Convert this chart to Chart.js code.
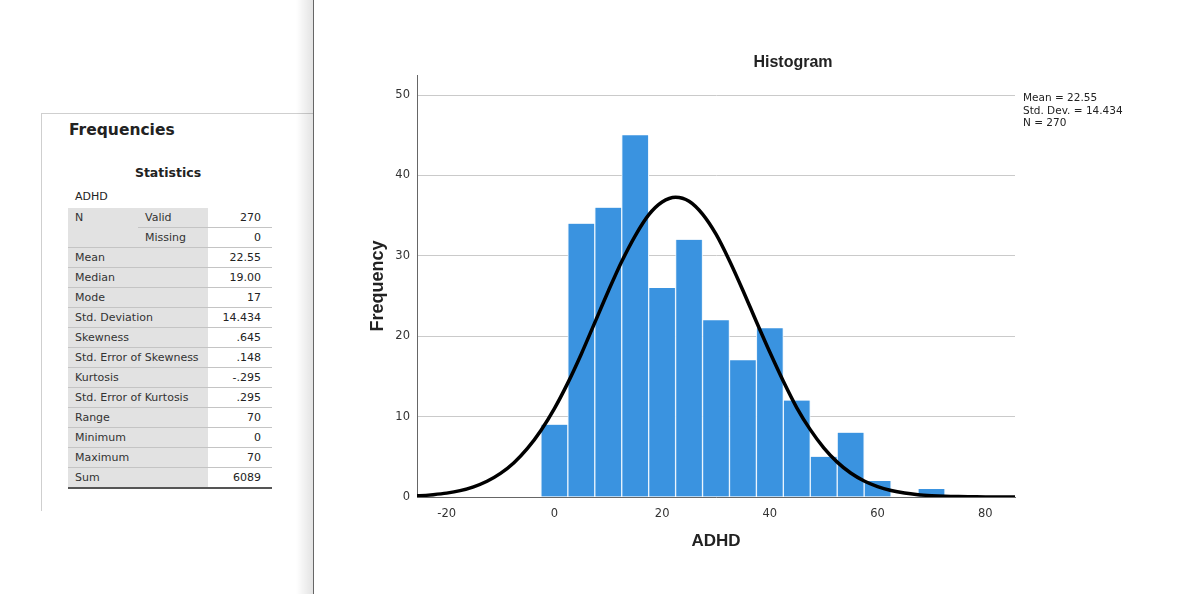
<!DOCTYPE html>
<html>
<head>
<meta charset="utf-8">
<script src="https://cdn.jsdelivr.net/npm/chart.js@4.4.1/dist/chart.umd.min.js"></script>
<style>
  body { margin: 0; width: 1200px; height: 594px; overflow: hidden; background: #fff; font-family: "DejaVu Sans", sans-serif; position: relative; }
  .abs { position: absolute; }
  #panel { left: 41px; top: 113px; width: 272px; height: 397px; border-top: 1px solid #cfcfcf; border-left: 1px solid #cfcfcf; }
  #shade { left: 296px; top: 0; width: 17px; height: 594px; background: linear-gradient(to right, rgba(0,0,0,0), rgba(0,0,0,0.11)); }
  #divider { left: 313px; top: 0; width: 1px; height: 594px; background: #666; }
  #freqTitle { left: 69px; top: 120px; line-height: 20px; font-size: 15.5px; font-weight: bold; color: #222; }
  #statTitle { left: 118px; width: 100px; text-align: center; top: 163px; line-height: 20px; font-size: 12.5px; font-weight: bold; color: #222; }
  #varName { left: 75px; top: 187px; line-height: 20px; font-size: 11px; color: #222; }
  #stats { left: 68px; top: 208px; border-collapse: collapse; font-size: 11px; color: #333; }
  #stats td { height: 19px; padding: 0; border-bottom: 1px solid #c4c4c4; line-height: 19px; white-space: nowrap; }
  #stats td.lab { background: #e2e2e2; padding-left: 7px; }
  #stats td.top { vertical-align: top; }
  #stats td.val { background: #fff; text-align: right; padding-right: 11px; color: #222; }
  #stats tr:last-child td { border-bottom: 2px solid #555; }
  #chartBox { left: 363px; top: 0; width: 837px; height: 594px; }
  #histTitle { left: 693px; width: 200px; text-align: center; top: 52px; line-height: 20px; font-family: "Liberation Sans", sans-serif; font-size: 16px; font-weight: bold; color: #222; }
  #fitInfo { left: 1023px; top: 91px; font-size: 10.5px; line-height: 12.5px; color: #222; white-space: nowrap; }
</style>
</head>
<body>
<div id="panel" class="abs"></div>
<div id="shade" class="abs"></div>
<div id="divider" class="abs"></div>
<div id="freqTitle" class="abs">Frequencies</div>
<div id="statTitle" class="abs">Statistics</div>
<div id="varName" class="abs">ADHD</div>
<table id="stats" class="abs"></table>

<div id="chartBox" class="abs"><canvas id="histChart"></canvas></div>
<div id="histTitle" class="abs">Histogram</div>
<div id="fitInfo" class="abs"></div>

<script>
// statistics table
const statLabels = ["Mean", "Median", "Mode", "Std. Deviation", "Skewness", "Std. Error of Skewness",
  "Kurtosis", "Std. Error of Kurtosis", "Range", "Minimum", "Maximum", "Sum"];
const statValues = ["22.55", "19.00", "17", "14.434", ".645", ".148", "-.295", ".295", "70", "0", "70", "6089"];
const nValid = "270";
const nMissing = "0";

// histogram bins (bin width 5, centred on multiples of 5)
const binCenters = [0, 5, 10, 15, 20, 25, 30, 35, 40, 45, 50, 55, 60, 65, 70];
const binCounts = [9, 34, 36, 45, 26, 32, 22, 17, 21, 12, 5, 8, 2, 0, 1];

// fitted normal curve
const curveX = [-25.5, -25, -22.5, -20, -17.5, -15, -12.5, -10, -7.5, -5, -2.5, 0, 2.5, 5, 7.5, 10, 12.5, 15, 17.5, 20,
  22.5, 25, 27.5, 30, 32.5, 35, 37.5, 40, 42.5, 45, 47.5, 50, 52.5, 55, 57.5, 60, 62.5, 65, 67.5, 70, 72.5, 75, 77.5, 80, 82.5, 85, 85.5];
const curveY = [0.15, 0.16, 0.29, 0.48, 0.79, 1.27, 1.96, 2.94, 4.27, 6.04, 8.28, 11.0, 14.2, 17.8, 21.7, 25.6, 29.3, 32.5, 35.1, 36.7,
  37.3, 36.8, 35.2, 32.7, 29.4, 25.7, 21.8, 18.0, 14.4, 11.1, 8.38, 6.12, 4.34, 2.98, 1.99, 1.29, 0.81, 0.49, 0.29, 0.17, 0.09, 0.05, 0.03, 0.01, 0.01, 0, 0];

const xTicks = [-20, 0, 20, 40, 60, 80];
const yTicks = [0, 10, 20, 30, 40, 50];
const fitLines = ["Mean = 22.55", "Std. Dev. = 14.434", "N = 270"];

// build the table
const table = document.getElementById("stats");
let html = '<colgroup><col style="width:70px"><col style="width:70px"><col style="width:64px"></colgroup>';
html += '<tr><td class="lab top" rowspan="2">N</td><td class="lab">Valid</td><td class="val">' + nValid + '</td></tr>';
html += '<tr><td class="lab">Missing</td><td class="val">' + nMissing + '</td></tr>';
statLabels.forEach(function (lab, i) {
  html += '<tr><td class="lab" colspan="2">' + lab + '</td><td class="val">' + statValues[i] + '</td></tr>';
});
table.innerHTML = html;
document.getElementById("fitInfo").innerHTML = fitLines.join("<br>");

const tickFont = { family: "DejaVu Sans", size: 11.5 };

const ctx = document.getElementById("histChart").getContext("2d");
new Chart(ctx, {
  data: {
    datasets: [
      {
        type: "line",
        data: curveX.map((x, i) => ({ x: x, y: curveY[i] })),
        borderColor: "#000",
        borderWidth: 3.5,
        pointRadius: 0,
        cubicInterpolationMode: "monotone",
        order: 1,
      },
      {
        type: "bar",
        data: binCenters.map((x, i) => ({ x: x, y: binCounts[i] })),
        backgroundColor: "#3a93e0",
        borderColor: "#e9f4fd",
        borderWidth: { left: 1, right: 1, top: 0, bottom: 0 },
        borderSkipped: false,
        barPercentage: 1,
        categoryPercentage: 1,
        order: 2,
      },
    ],
  },
  options: {
    responsive: true,
    maintainAspectRatio: false,
    animation: false,
    layout: { padding: { top: 75, right: 185, bottom: 38, left: 0 } },
    plugins: { legend: { display: false }, tooltip: { enabled: false } },
    scales: {
      x: {
        type: "linear",
        offset: false,
        min: -25.5,
        max: 85.5,
        afterBuildTicks: (s) => { s.ticks = xTicks.map((v) => ({ value: v })); },
        afterFit: (s) => { s.height = 59; },
        grid: { display: false },
        border: { color: "#666", width: 1 },
        ticks: { font: tickFont, color: "#333", padding: 2, maxRotation: 0 },
        title: { display: true, text: "ADHD", font: { family: "Liberation Sans", size: 17, weight: "bold" }, color: "#222" },
      },
      y: {
        min: 0,
        max: 52.5,
        afterBuildTicks: (s) => { s.ticks = yTicks.map((v) => ({ value: v })); },
        afterFit: (s) => { s.width = 54; },
        grid: { color: "#cacaca", drawTicks: false },
        border: { color: "#666", width: 1 },
        ticks: { font: tickFont, color: "#333", padding: 7 },
        title: { display: true, text: "Frequency", font: { family: "Liberation Sans", size: 18, weight: "bold" }, color: "#222" },
      },
    },
  },
});
</script>
</body>
</html>
